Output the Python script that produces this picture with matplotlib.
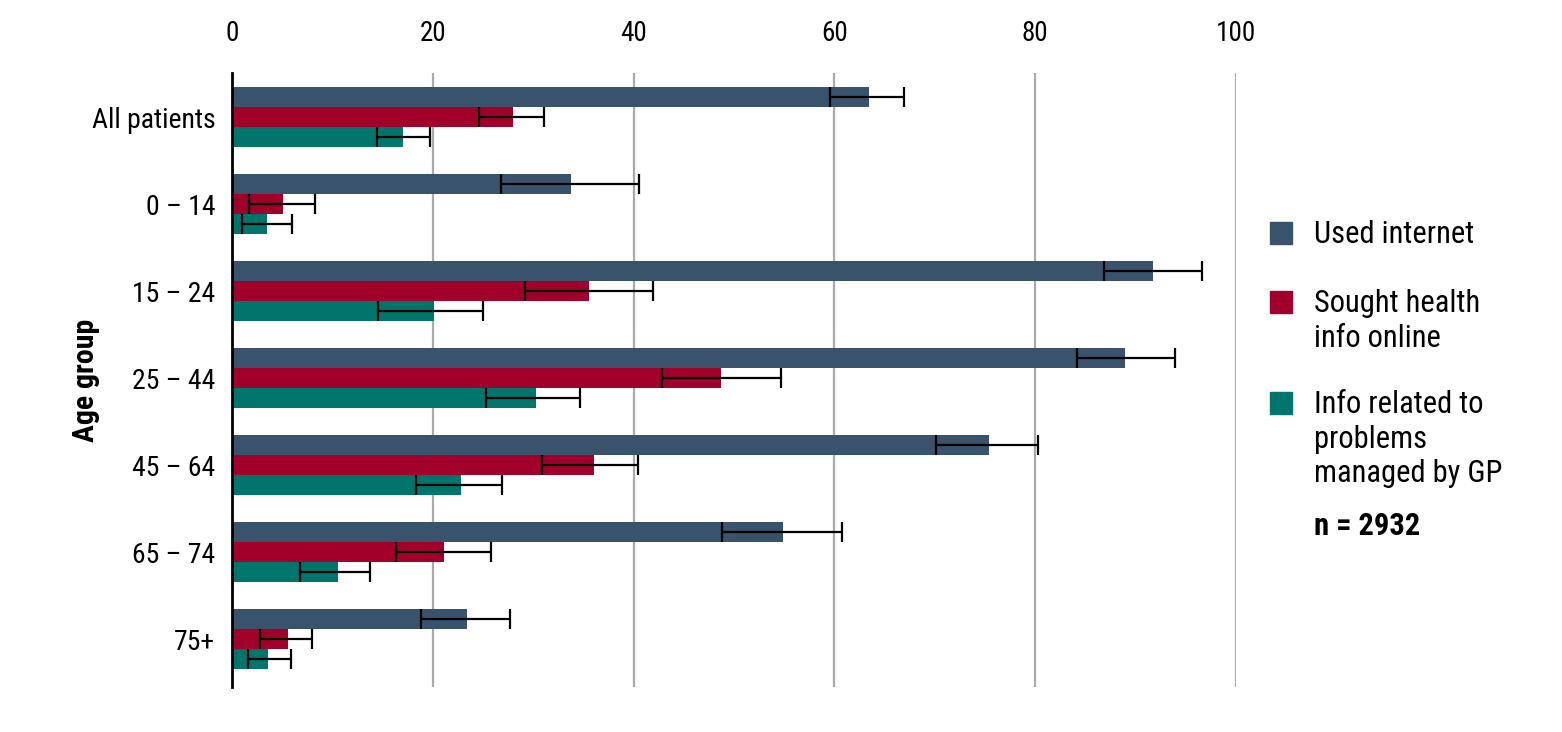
import matplotlib
matplotlib.use("Agg")
import matplotlib.pyplot as plt
import numpy as np
from matplotlib.patches import Rectangle
from matplotlib import font_manager

categories = ["All patients", "0 – 14", "15 – 24", "25 – 44", "45 – 64", "65 – 74", "75+"]
series_names = ["Used internet", "Sought health\ninfo online", "Info related to\nproblems\nmanaged by GP"]

used = [63.4, 33.8, 91.7, 88.9, 75.4, 54.9, 23.4]
used_lo = [59.6, 26.8, 86.9, 84.2, 70.1, 48.8, 18.8]
used_hi = [66.9, 40.5, 96.6, 93.9, 80.3, 60.8, 27.7]

sought = [28.0, 5.1, 35.6, 48.7, 36.1, 21.1, 5.6]
sought_lo = [24.6, 1.7, 29.2, 42.8, 30.9, 16.3, 2.8]
sought_hi = [31.1, 8.3, 41.9, 54.7, 40.4, 25.8, 8.0]

info = [17.0, 3.5, 20.1, 30.3, 22.8, 10.6, 3.6]
info_lo = [14.4, 0.95, 14.5, 25.3, 18.3, 6.8, 1.6]
info_hi = [19.7, 5.95, 25.0, 34.7, 26.9, 13.7, 5.9]

xticks = [0, 20, 40, 60, 80, 100]
n_text = "n = 2932"

colors = ["#3a536d", "#a0002a", "#00756b"]

avail = {f.name for f in font_manager.fontManager.ttflist}
cands = ["Roboto Condensed", "Liberation Sans Narrow", "Open Sans Condensed", "DejaVu Sans"]
fam = [c for c in cands if c in avail] or ["DejaVu Sans"]
plt.rcParams["font.family"] = fam

fig = plt.figure(figsize=(15.62, 7.32), dpi=100)
ax = fig.add_axes([232/1562, 45/732, (1236-232)/1562, (687-73)/732])

y = np.arange(len(categories))
h = 0.23
vals = [used, sought, info]
los = [used_lo, sought_lo, info_lo]
his = [used_hi, sought_hi, info_hi]
for i, (v, lo, hi) in enumerate(zip(vals, los, his)):
    yy = y + (i - 1) * h
    ax.barh(yy, v, height=h, color=colors[i], zorder=2)
    v = np.array(v); lo = np.array(lo); hi = np.array(hi)
    ax.errorbar(v, yy, xerr=[v - lo, hi - v], fmt="none", ecolor="black",
                elinewidth=1.6, capsize=7, capthick=1.6, zorder=3)

ax.set_xlim(0, 100)
ax.set_ylim(6.55, -0.506)
ax.set_xticks(xticks)
ax.xaxis.tick_top()
ax.tick_params(axis="x", length=0, pad=19, labelsize=19.5)
ax.set_yticks(y)
ax.set_yticklabels(categories)
ax.tick_params(axis="y", length=0, pad=12, labelsize=20)
ax.grid(axis="x", color="#aaaaaa", linewidth=1.6, zorder=0)
ax.set_axisbelow(True)
for s in ["top", "right", "bottom"]:
    ax.spines[s].set_visible(False)
ax.spines["left"].set_linewidth(2)
ax.spines["left"].set_color("black")
ax.spines["left"].set_zorder(4)
ax.set_ylabel("Age group", fontsize=21.5, fontweight="bold")
ax.yaxis.set_label_coords((100 - 232) / 1004, 0.5)

# legend (manual)
W, H = 1562, 732
label_centers = [233, 302, 403]
for i, name in enumerate(series_names):
    yc = label_centers[i]
    fig.patches.append(Rectangle((1270/W, 1 - (yc + 11)/H), 22/W, 22/H,
                                 transform=fig.transFigure, color=colors[i]))
    fig.text(1314/W, 1 - (yc - 13)/H, name, fontsize=22, va="top", ha="left",
             linespacing=1.24)
fig.text(1314/W, 1 - 526/H, n_text, fontsize=22, fontweight="bold", va="center", ha="left")

fig.savefig("out.png", dpi=100)
